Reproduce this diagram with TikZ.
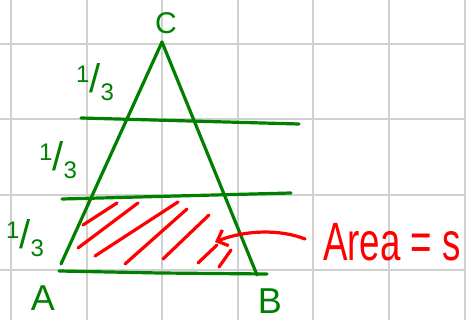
\documentclass[tikz,border=0pt]{standalone}
\usepackage{fontspec}
\setmainfont{Liberation Sans}
\usetikzlibrary{arrows.meta}
\definecolor{inkgreen}{RGB}{0,128,0}
\definecolor{inkred}{RGB}{255,0,0}
\definecolor{gridgray}{RGB}{208,208,208}
\newcommand{\onethird}{\raisebox{.42em}{1}{\fontsize{40}{40}\selectfont/}\raisebox{-.32em}{3}}

\begin{document}
\begin{tikzpicture}[x=1pt,y=-1pt,
  gridline/.style={draw=gridgray,line width=2pt},
  greenpen/.style={draw=inkgreen,line width=3.2pt,line cap=round,line join=round},
  redpen/.style={draw=inkred,line width=3.2pt,line cap=round,line join=round},
  vertex/.style={text=inkgreen,inner sep=0pt,font=\fontsize{36}{36}\selectfont},
  third/.style={text=inkgreen,inner sep=0pt,font=\fontsize{24}{24}\selectfont}]
\useasboundingbox (0,0) rectangle (466,320);
\fill[white] (0,0) rectangle (466,320);
% grid
\foreach \gx in {11,86.5,162,237.5,313,389,464.5} \draw[gridline] (\gx,0)--(\gx,320);
\foreach \gy in {44,119.5,195,270.5} \draw[gridline] (0,\gy)--(466,\gy);
% triangle and the cuts into thirds
\coordinate (cornA) at (61,264); \coordinate (cornC) at (162,42); \coordinate (cornB) at (257,275);
\draw[greenpen] (cornA)--(cornC)--(cornB);
\draw[greenpen] (81,118)--(299,124);
\draw[greenpen] (62,199)--(291,193);
\draw[greenpen] (59,271)--(160,273)--(267,274);
% shading of the bottom band
\foreach \ax/\ay/\bx/\by in {117/203/83/225,138/203/78/248,178/202/95/256,187/209/125/264,209/215/163/259,217/245/198/263}
  \draw[redpen] (\ax,\ay)--(\bx,\by);
% labels
\node[vertex,font=\fontsize{30}{30}\selectfont] (labC) at (166,23) {C};
\node[vertex] (labA) at (43,298) {A};
\node[vertex] (labB) at (270,301) {B};
\node[third] (topthird) at (95,82) {\onethird};
\node[third] (midthird) at (58,160) {\onethird};
\node[third] (lowthird) at (25,238) {\onethird};
\node[text=inkred,inner sep=0pt,font=\fontsize{54}{54}\selectfont] (area) at (392,242) {\scalebox{.68}[1]{Area = s}};
\coordinate (tail) at (305,239);
\coordinate (tip) at (215,242);
\draw[redpen,-{Straight Barb[length=9pt,width=17pt]}] (tail) .. controls (280,229) and (245,230) .. (tip);
\draw[redpen] (231,250)--(219,267);
\end{tikzpicture}
\end{document}
